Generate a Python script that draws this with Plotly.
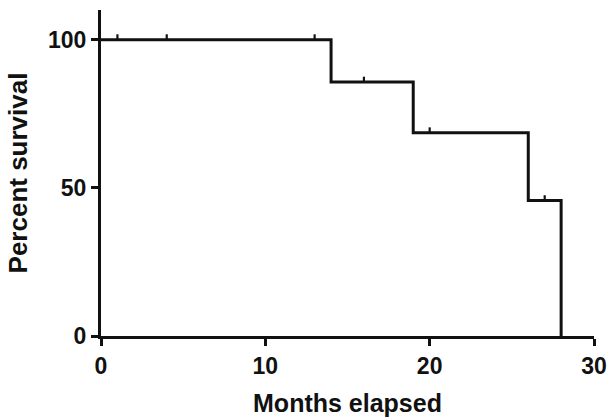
import plotly.graph_objects as go

# Kaplan-Meier data
step_times = [0, 14, 19, 26, 28]
step_survival = [100, 85.7, 68.6, 45.7, 0]
censor_times = [1, 4, 13, 16, 20, 27]
censor_survival = [100, 100, 100, 85.7, 68.6, 45.7]
censor_mark_height = [1.8] * len(censor_times)

x_ticks = [0, 10, 20, 30]
y_ticks = [0, 50, 100]

font_family = "Liberation Sans, Arial, sans-serif"
ink = "#111111"

fig = go.Figure()
fig.add_trace(go.Scatter(
    x=step_times, y=step_survival, mode="lines",
    line=dict(shape="hv", color=ink, width=3),
    showlegend=False, hoverinfo="skip",
))
fig.add_trace(go.Scatter(
    x=censor_times, y=censor_survival, mode="markers",
    marker=dict(size=1, color=ink),
    error_y=dict(type="data", symmetric=False, array=censor_mark_height,
                 arrayminus=[0] * len(censor_times), width=0,
                 thickness=2.2, color=ink),
    showlegend=False, hoverinfo="skip",
))

fig.update_layout(
    width=611, height=419,
    margin=dict(l=101, r=17, t=10, b=83),
    paper_bgcolor="white", plot_bgcolor="white",
    font=dict(family=font_family, color=ink),
)
fig.update_xaxes(
    range=[0, 30], tickvals=x_ticks, ticktext=[str(v) for v in x_ticks],
    showgrid=False, zeroline=False, showline=True, linecolor=ink, linewidth=3,
    ticks="outside", ticklen=7, tickwidth=2.6, tickcolor=ink, automargin=False,
    tickfont=dict(size=23, family="Liberation Sans", weight="bold"),
    title=dict(text="<b>Months elapsed</b>", font=dict(size=25), standoff=17),
)
fig.update_yaxes(
    range=[0, 110], tickvals=y_ticks, ticktext=[str(v) for v in y_ticks],
    showgrid=False, zeroline=False, showline=True, linecolor=ink, linewidth=3,
    ticks="outside", ticklen=7, tickwidth=2.6, tickcolor=ink, automargin=False,
    tickfont=dict(size=23, family="Liberation Sans", weight="bold"),
    title=dict(text="<b>Percent survival</b>", font=dict(size=26), standoff=13),
)

fig.write_html("out.html", config={"displayModeBar": False},
               post_script="document.body.style.margin='0';")
